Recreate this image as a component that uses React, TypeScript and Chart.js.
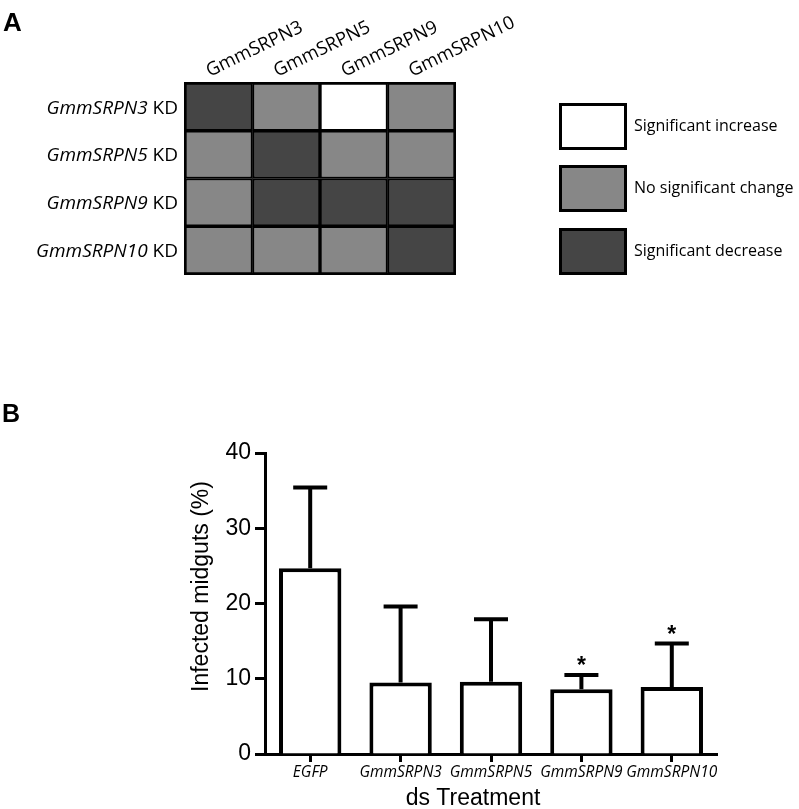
import React, { useEffect, useRef } from 'react';
import { Chart, registerables } from 'chart.js';

Chart.register(...registerables);

// ---------- Panel A data ----------
const heatRows = ['GmmSRPN3', 'GmmSRPN5', 'GmmSRPN9', 'GmmSRPN10'];
const heatCols = ['GmmSRPN3', 'GmmSRPN5', 'GmmSRPN9', 'GmmSRPN10'];
const rowSRPN3KD = ['down', 'ns', 'up', 'ns'];
const rowSRPN5KD = ['ns', 'down', 'ns', 'ns'];
const rowSRPN9KD = ['ns', 'down', 'down', 'down'];
const rowSRPN10KD = ['ns', 'ns', 'ns', 'down'];
const legendKeys = ['up', 'ns', 'down'];
const legendLabels = ['Significant increase', 'No significant change', 'Significant decrease'];

// ---------- Panel B data ----------
const treatments = ['EGFP', 'GmmSRPN3', 'GmmSRPN5', 'GmmSRPN9', 'GmmSRPN10'];
const infectedMean = [24.7, 9.5, 9.6, 8.6, 8.9];
const infectedErr = [10.7, 10.1, 8.3, 1.9, 5.8];
const significant = [false, false, false, true, true];
const yTickValues = [0, 10, 20, 30, 40];

const statusColor: Record<string, string> = {
  up: '#ffffff',
  ns: '#878787',
  down: '#454545',
};

const W = 799;
const HA = 300;
const HB = 509;

export default function App() {
  const refA = useRef<HTMLCanvasElement>(null);
  const refB = useRef<HTMLCanvasElement>(null);

  useEffect(() => {
    const heatMatrix = [rowSRPN3KD, rowSRPN5KD, rowSRPN9KD, rowSRPN10KD];

    const heatPlugin = {
      id: 'heatLabels',
      afterDatasetsDraw(chart: any) {
        const ctx = chart.ctx;
        const ca = chart.chartArea;
        const xs = chart.scales.x;
        const ys = chart.scales.y;
        ctx.save();
        // outer frame
        ctx.strokeStyle = '#000';
        ctx.lineWidth = 2;
        ctx.strokeRect(ca.left, ca.top, ca.right - ca.left, ca.bottom - ca.top);

        // row labels (italic gene + regular KD)
        const fs = 19;
        heatRows.forEach((g, i) => {
          const y = ys.getPixelForValue(i) + fs * 0.357;
          ctx.textBaseline = 'alphabetic';
          ctx.textAlign = 'left';
          ctx.font = `${fs}px "Open Sans"`;
          const kd = ' KD';
          const kdW = ctx.measureText(kd).width;
          ctx.font = `italic ${fs}px "Open Sans"`;
          const gW = ctx.measureText(g).width;
          const right = ca.left - 7;
          ctx.fillStyle = '#000';
          ctx.fillText(g, right - kdW - gW, y);
          ctx.font = `${fs}px "Open Sans"`;
          ctx.fillText(kd, right - kdW, y);
        });

        // column labels rotated
        heatCols.forEach((c, ci) => {
          const cx = xs.getPixelForValue(ci + 0.5);
          ctx.save();
          ctx.translate(cx - 9, ca.top - 6);
          ctx.rotate(-26 * Math.PI / 180);
          ctx.font = `18.5px "Open Sans"`;
          ctx.textAlign = 'left';
          ctx.textBaseline = 'alphabetic';
          ctx.fillStyle = '#000';
          ctx.fillText(c, 0, 0);
          ctx.restore();
        });

        // legend
        const tops = [103, 165, 228];
        legendKeys.forEach((k, i) => {
          const x = 559, w = 68, h = 47, t = tops[i];
          ctx.fillStyle = statusColor[k];
          ctx.fillRect(x, t, w, h);
          ctx.strokeStyle = '#000';
          ctx.lineWidth = 3;
          ctx.strokeRect(x + 1.5, t + 1.5, w - 3, h - 3);
          ctx.fillStyle = '#000';
          ctx.font = `16px "Open Sans"`;
          ctx.textAlign = 'left';
          ctx.textBaseline = 'middle';
          ctx.fillText(legendLabels[i], 634, t + h / 2);
        });

        // panel letter
        ctx.font = 'bold 26px "Liberation Sans", Arial, sans-serif';
        ctx.textAlign = 'left';
        ctx.textBaseline = 'alphabetic';
        ctx.fillText('A', 3, 31);
        ctx.restore();
      },
    };

    const chartA = new Chart(refA.current!, {
      type: 'bar',
      data: {
        labels: heatRows.map((r) => r + ' KD'),
        datasets: heatCols.map((col, ci) => ({
          label: col,
          data: heatRows.map(() => 1),
          backgroundColor: heatMatrix.map((r) => statusColor[r[ci]]),
          borderColor: '#000',
          borderWidth: 2,
          borderSkipped: false,
          barPercentage: 1,
          categoryPercentage: 1,
        })),
      },
      options: {
        indexAxis: 'y',
        responsive: false,
        animation: false,
        events: [],
        layout: { padding: { left: 185, right: W - 455, top: 83, bottom: HA - 274 } },
        plugins: { legend: { display: false }, tooltip: { enabled: false } },
        scales: {
          x: { stacked: true, min: 0, max: heatCols.length, display: false },
          y: { stacked: true, display: false },
        },
      },
      plugins: [heatPlugin],
    } as any);

    const barPlugin = {
      id: 'barExtras',
      afterDatasetsDraw(chart: any) {
        const ctx = chart.ctx;
        const ys = chart.scales.y;
        const meta = chart.getDatasetMeta(0);
        const ca = chart.chartArea;
        ctx.save();
        ctx.strokeStyle = '#000';
        ctx.fillStyle = '#000';
        ctx.lineWidth = 4;
        ctx.lineCap = 'butt';
        infectedMean.forEach((m, i) => {
          const x = meta.data[i].x;
          const yBar = ys.getPixelForValue(m);
          const yTop = ys.getPixelForValue(m + infectedErr[i]);
          ctx.beginPath();
          ctx.moveTo(x, yBar);
          ctx.lineTo(x, yTop);
          ctx.moveTo(x - 17, yTop);
          ctx.lineTo(x + 17, yTop);
          ctx.stroke();
          if (significant[i]) {
            ctx.font = 'bold 23px "Liberation Sans", Arial, sans-serif';
            ctx.textAlign = 'center';
            ctx.textBaseline = 'alphabetic';
            ctx.fillText('*', x, yTop - 1.5);
          }
        });
        // axis titles
        ctx.font = '23px "Liberation Sans", Arial, sans-serif';
        ctx.textAlign = 'center';
        ctx.textBaseline = 'alphabetic';
        const cx = (ca.left + ca.right) / 2 - 18;
        ctx.fillText('ds Treatment', cx, 505);
        ctx.save();
        ctx.translate(208, (ca.top + ca.bottom) / 2 - 17);
        ctx.rotate(-Math.PI / 2);
        ctx.fillText('Infected midguts (%)', 0, 0);
        ctx.restore();
        // panel letter
        ctx.font = 'bold 25px "Liberation Sans", Arial, sans-serif';
        ctx.textAlign = 'left';
        ctx.fillText('B', 2, 122);
        ctx.restore();
      },
    };

    const chartB = new Chart(refB.current!, {
      type: 'bar',
      data: {
        labels: treatments,
        datasets: [
          {
            label: 'Infected midguts (%)',
            data: infectedMean,
            backgroundColor: '#ffffff',
            borderColor: '#000',
            borderWidth: 4,
            borderSkipped: 'start',
            barPercentage: 0.69,
            categoryPercentage: 1,
          },
        ],
      },
      options: {
        responsive: false,
        animation: false,
        events: [],
        layout: { padding: { left: 0, right: W - 717, top: 153, bottom: 0 } },
        plugins: { legend: { display: false }, tooltip: { enabled: false } },
        scales: {
          x: {
            offset: true,
            grid: {
              display: true,
              drawOnChartArea: false,
              drawTicks: true,
              tickLength: 8,
              tickWidth: 3,
              tickColor: '#000',
              offset: false,
            },
            border: { display: true, color: '#000', width: 3 },
            ticks: {
              color: '#000',
              font: { family: '"Open Sans"', size: 15.5, style: 'italic' },
              padding: 1,
              maxRotation: 0,
              minRotation: 0,
              autoSkip: false,
            },
            afterFit: (s: any) => {
              s.height = HB - 454;
            },
          },
          y: {
            min: 0,
            max: 40,
            afterBuildTicks: (s: any) => {
              s.ticks = yTickValues.map((v) => ({ value: v }));
            },
            grid: {
              display: true,
              drawOnChartArea: false,
              drawTicks: true,
              tickLength: 10,
              tickWidth: 3,
              tickColor: '#000',
            },
            border: { display: true, color: '#000', width: 3 },
            ticks: {
              color: '#000',
              font: { family: '"Liberation Sans", Arial, sans-serif', size: 23 },
              padding: 4,
            },
            afterFit: (s: any) => {
              s.width = 265;
            },
          },
        },
      },
      plugins: [barPlugin],
    } as any);

    return () => {
      chartA.destroy();
      chartB.destroy();
    };
  }, []);

  return (
    <div style={{ position: 'absolute', left: 0, top: 0, width: W, height: HA + HB, background: '#fff' }}>
      <canvas ref={refA} width={W} height={HA} style={{ position: 'absolute', left: 0, top: 0, width: W, height: HA }} />
      <canvas ref={refB} width={W} height={HB} style={{ position: 'absolute', left: 0, top: HA, width: W, height: HB }} />
    </div>
  );
}
